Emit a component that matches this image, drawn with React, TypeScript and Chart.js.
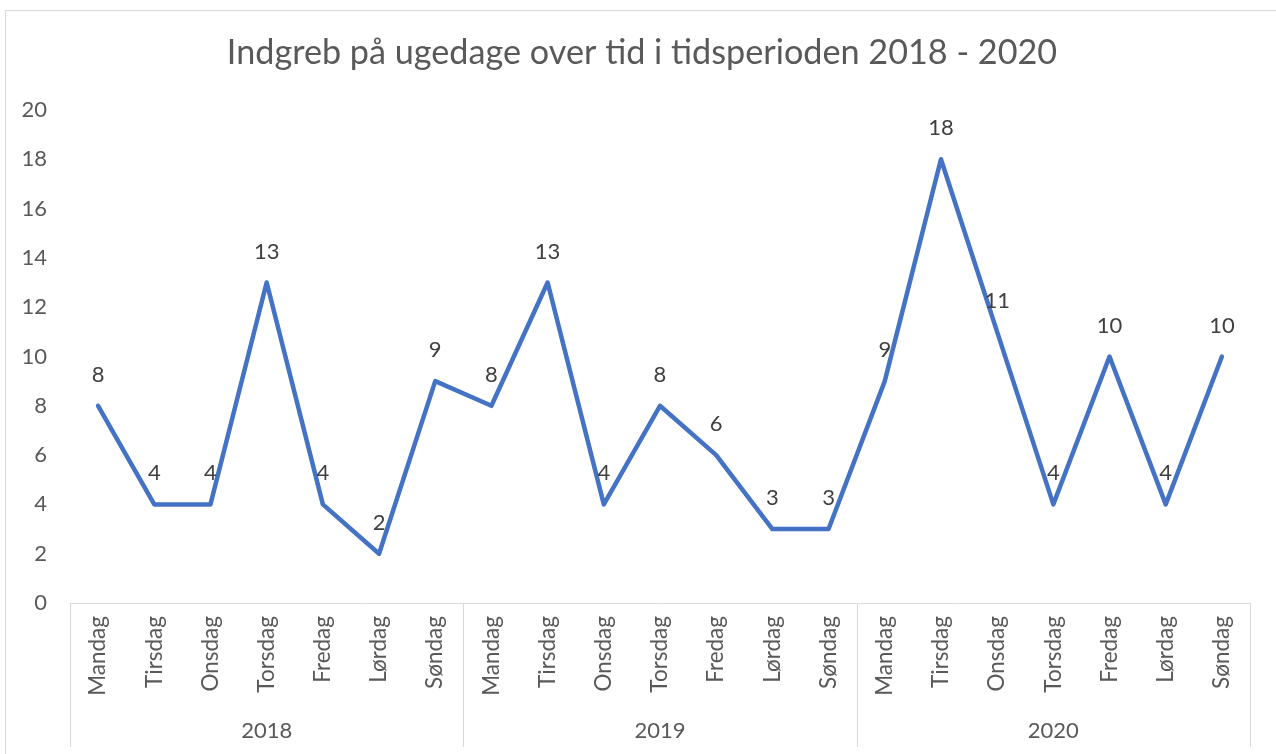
import React, { useEffect, useRef } from "react";
import { Chart, registerables } from "chart.js";

Chart.register(...registerables);

const titleText = "Indgreb på ugedage over tid i tidsperioden 2018 - 2020";
const years = ["2018", "2019", "2020"];
const days = ["Mandag", "Tirsdag", "Onsdag", "Torsdag", "Fredag", "Lørdag", "Søndag"];
const values2018 = [8, 4, 4, 13, 4, 2, 9];
const values2019 = [8, 13, 4, 8, 6, 3, 3];
const values2020 = [9, 18, 11, 4, 10, 4, 10];
const yMin = 0;
const yMax = 20;
const yStep = 2;

const FONT = "Lato, 'Open Sans', sans-serif";
const TEXT = "#595959";
const GRID = "#d9d9d9";

export default function App() {
  const ref = useRef<HTMLCanvasElement | null>(null);

  useEffect(() => {
    const canvas = ref.current;
    if (!canvas) return;
    const labels: string[] = [];
    years.forEach(() => days.forEach((d) => labels.push(d)));
    const values = [...values2018, ...values2019, ...values2020];

    const decor = {
      id: "decor",
      beforeDraw(chart: any) {
        const ctx = chart.ctx;
        ctx.save();
        ctx.fillStyle = "#ffffff";
        ctx.fillRect(0, 0, chart.width, chart.height);
        ctx.strokeStyle = GRID;
        ctx.lineWidth = 1;
        ctx.strokeRect(5.5, 10.5, chart.width + 20, chart.height + 20);
        // title
        ctx.font = `34.2px ${FONT}`;
        ctx.fillStyle = TEXT;
        ctx.textAlign = "center";
        ctx.textBaseline = "middle";
        ctx.fillText(titleText, 642, 53);
        ctx.restore();
      },
      afterDatasetsDraw(chart: any) {
        const ctx = chart.ctx;
        const meta = chart.getDatasetMeta(0);
        ctx.save();
        ctx.font = `22px ${FONT}`;
        ctx.fillStyle = "#404040";
        ctx.textAlign = "center";
        ctx.textBaseline = "middle";
        meta.data.forEach((pt: any, i: number) => {
          ctx.fillText(String(values[i]), pt.x, pt.y - 31);
        });
        ctx.restore();
      },
      afterDraw(chart: any) {
        const ctx = chart.ctx;
        const xs = chart.scales.x;
        const top = chart.chartArea.bottom;
        const bottom = chart.height - 7;
        ctx.save();
        ctx.strokeStyle = GRID;
        ctx.lineWidth = 1;
        for (let g = 0; g <= years.length; g++) {
          const px = Math.round(xs.getPixelForValue(g * days.length - 0.5)) + 0.5;
          ctx.beginPath();
          ctx.moveTo(px, top);
          ctx.lineTo(px, bottom);
          ctx.stroke();
        }
        ctx.font = `22px ${FONT}`;
        ctx.fillStyle = TEXT;
        ctx.textAlign = "center";
        ctx.textBaseline = "middle";
        years.forEach((y, g) => {
          const cx = xs.getPixelForValue(g * days.length + (days.length - 1) / 2);
          ctx.fillText(y, cx, 731);
        });
        ctx.restore();
      },
    };

    const chart = new Chart(canvas, {
      type: "line",
      data: {
        labels,
        datasets: [
          {
            data: values,
            borderColor: "#4472C4",
            borderWidth: 4.5,
            pointRadius: 0,
            tension: 0,
            borderJoinStyle: "round",
            borderCapStyle: "round",
            fill: false,
          },
        ],
      },
      options: {
        responsive: false,
        animation: false,
        devicePixelRatio: 1,
        layout: { padding: { top: 110, left: 0, right: 26, bottom: 0 } },
        plugins: {
          legend: { display: false },
          tooltip: { enabled: false },
          title: { display: false },
        },
        scales: {
          x: {
            type: "category",
            offset: true,
            grid: { display: false, drawTicks: false },
            border: { display: true, color: GRID, width: 1 },
            ticks: {
              autoSkip: false,
              maxRotation: 90,
              minRotation: 90,
              padding: 13,
              color: TEXT,
              font: { family: FONT, size: 22.5 },
            },
            afterFit(scale: any) {
              scale.height = 151;
            },
          },
          y: {
            min: yMin,
            max: yMax,
            grid: { display: false, drawTicks: false },
            border: { display: false },
            ticks: {
              stepSize: yStep,
              padding: 23,
              color: TEXT,
              font: { family: FONT, size: 22 },
            },
            afterFit(scale: any) {
              scale.width = 70;
            },
          },
        },
      },
      plugins: [decor],
    } as any);

    return () => chart.destroy();
  }, []);

  return (
    <div style={{ position: "fixed", left: 0, top: 0, width: 1276, height: 754, background: "#fff" }}>
      <canvas ref={ref} width={1276} height={754} style={{ display: "block" }} />
    </div>
  );
}
